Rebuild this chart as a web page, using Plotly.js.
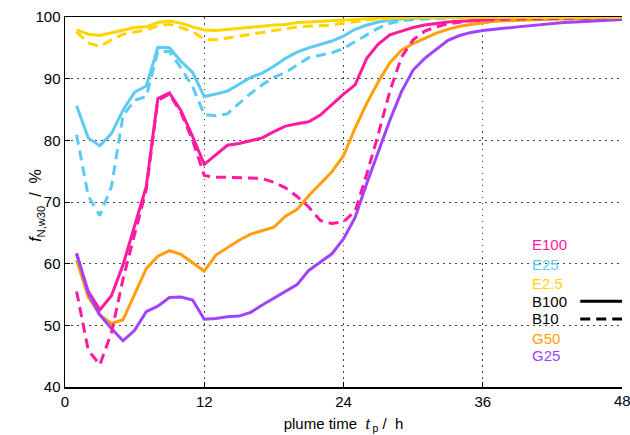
<!DOCTYPE html>
<html>
<head>
<meta charset="utf-8">
<script src="https://cdn.plot.ly/plotly-3.0.1.min.js"></script>
<style>html,body{margin:0;padding:0;background:#fff;}#chart{width:630px;height:435px;}</style>
</head>
<body>
<div id="chart"></div>
<script>
// plume time (h)
const hours = [1,2,3,4,5,6,7,8,9,10,11,12,13,14,15,16,17,18,19,20,21,22,23,24,25,26,27,28,29,30,31,32,33,34,35,36,37,38,39,40,41,42,43,44,45,46,47,48];

const E100_B100 = [61.5,55.5,52.5,54.8,59.8,66.0,72.5,86.8,87.7,84.8,80.6,76.1,77.7,79.2,79.5,79.9,80.4,81.4,82.3,82.7,83.0,84.1,85.8,87.5,89.0,93.3,95.6,97.1,97.7,98.3,98.7,99.0,99.2,99.3,99.4,99.5,99.55,99.6,99.65,99.7,99.7,99.75,99.75,99.8,99.8,99.8,99.85,99.85];
const E100_B10 = [55.5,46.0,43.6,48.8,57.5,65.0,72.0,86.5,87.5,84.5,80.0,74.3,74.0,74.0,74.0,73.9,73.8,73.2,72.3,70.9,69.2,67.0,66.5,66.8,68.5,74.5,81.0,88.0,93.5,96.3,97.7,98.4,98.9,99.2,99.4,99.5,99.6,99.65,99.7,99.7,99.75,99.75,99.8,99.8,99.8,99.85,99.85,99.85];
const E25_B100 = [85.6,80.4,79.1,81.1,84.9,87.8,88.8,95.1,95.0,92.8,91.0,87.1,87.5,88.0,89.1,90.2,90.9,92.0,93.3,94.3,95.0,95.6,96.1,96.9,98.0,98.7,99.2,99.5,99.7,99.8,99.85,99.9,99.9,99.9,99.9,99.9,99.92,99.92,99.93,99.93,99.94,99.94,99.95,99.95,99.95,99.95,99.95,99.95];
const E25_B10 = [80.9,71.0,67.8,72.5,84.0,86.5,87.1,94.4,94.4,91.7,88.7,84.2,84.0,84.3,86.0,87.6,89.0,90.2,91.0,92.2,93.4,93.8,94.2,94.9,96.0,97.0,98.2,99.0,99.4,99.6,99.7,99.8,99.85,99.9,99.9,99.9,99.9,99.92,99.92,99.93,99.93,99.94,99.94,99.95,99.95,99.95,99.95,99.95];
const E2_5_B100 = [97.9,97.2,97.0,97.4,97.9,98.3,98.4,99.1,99.35,99.0,98.4,97.9,97.8,98.0,98.2,98.4,98.6,98.7,98.8,99.1,99.2,99.3,99.4,99.6,99.7,99.8,99.85,99.9,99.9,99.92,99.93,99.94,99.95,99.95,99.95,99.96,99.96,99.96,99.97,99.97,99.97,99.97,99.98,99.98,99.98,99.98,99.98,99.98];
const E2_5_B10 = [97.6,95.8,95.2,96.3,97.2,97.6,97.9,98.6,98.8,98.3,97.6,96.4,96.3,96.6,96.9,97.2,97.5,97.8,98.1,98.4,98.5,98.6,98.7,99.0,99.3,99.5,99.7,99.8,99.85,99.9,99.9,99.92,99.93,99.94,99.95,99.95,99.95,99.96,99.96,99.96,99.97,99.97,99.97,99.97,99.98,99.98,99.98,99.98];
const G50 = [60.6,54.6,51.7,50.3,50.9,55.0,59.2,61.2,62.1,61.5,60.1,58.8,61.4,62.6,63.8,64.8,65.3,65.9,67.7,68.8,71.0,73.0,74.9,77.5,82.0,86.0,89.5,92.6,94.6,95.7,96.6,97.4,98.0,98.5,98.8,99.1,99.3,99.4,99.5,99.55,99.6,99.65,99.7,99.7,99.75,99.75,99.8,99.8];
const G25 = [61.7,55.2,51.7,49.5,47.5,49.2,52.2,53.1,54.5,54.6,54.1,51.0,51.1,51.4,51.5,52.1,53.3,54.4,55.5,56.6,58.9,60.3,61.6,64.0,67.5,73.0,78.3,83.3,87.9,91.4,93.3,94.8,96.2,97.0,97.5,97.8,97.95,98.2,98.4,98.6,98.8,98.95,99.1,99.2,99.3,99.4,99.5,99.6];

const legendLabels = ["E100","E25","E2.5","B100","B10","G50","G25"];
const xTicks = [0,12,24,36];
const xEdgeTick = 48;
const yTicks = [40,50,60,70,80,90,100];
const yTitle = "<i>f</i><sub>N,w30</sub>  /  %";

const C = {E100:"#ff1aa0", E25:"#5ccbf2", E2_5:"#ffd500", G50:"#ffa00a", G25:"#a043ff"};
const dashPat = "10px,6px";

function tr(y, color, dash) {
  return {x: hours, y: y, type: "scatter", mode: "lines",
    line: {color: color, width: 3, dash: dash || "solid"}, hoverinfo: "skip", showlegend: false};
}

const traces = [
  tr(E100_B100, C.E100),
  tr(E25_B100, C.E25),
  tr(G50, C.G50),
  tr(G25, C.G25),
  tr(E100_B10, C.E100, dashPat),
  tr(E25_B10, C.E25, dashPat),
  tr(E2_5_B10, C.E2_5, dashPat),
  tr(E2_5_B100, C.E2_5)
];

const font = {family: "Liberation Sans, Arial, sans-serif", size: 15, color: "#000"};
const legendColors = [C.E100, C.E25, C.E2_5, "#000", "#000", C.G50, C.G25];
const legY = [0.384, 0.332, 0.281, 0.232, 0.184, 0.132, 0.084];
const annotations = legendLabels.map((t, i) => ({
  text: t, xref: "paper", yref: "paper", x: 0.835, y: legY[i],
  xanchor: "left", yanchor: "middle", showarrow: false,
  font: {family: "Liberation Sans, Arial, sans-serif", size: 15, color: legendColors[i]}
}));
// tick label at the right edge (clipped in the reference)
annotations.push({text: String(xEdgeTick), xref: "x", yref: "paper", x: xEdgeTick, y: 0,
  xanchor: "center", yanchor: "top", yshift: -3, showarrow: false, font: font});
// y axis title
annotations.push({text: yTitle, xref: "paper", yref: "paper", x: -0.05, y: 0.49,
  xanchor: "center", yanchor: "middle", textangle: -90, showarrow: false,
  font: {family: font.family, size: 16, color: "#000"}});

const shapes = [
  {type: "line", xref: "paper", yref: "paper", x0: 0.925, x1: 1.0, y0: legY[3], y1: legY[3], line: {color: "#000", width: 3}},
  {type: "line", xref: "paper", yref: "paper", x0: 0.925, x1: 1.0, y0: legY[4], y1: legY[4], line: {color: "#000", width: 3, dash: dashPat}}
];

const layout = {
  width: 630, height: 435,
  margin: {l: 65, r: 8, t: 17, b: 48},
  paper_bgcolor: "#fff", plot_bgcolor: "#fff",
  font: font,
  showlegend: false,
  xaxis: {
    range: [0, 48], tickvals: xTicks.concat([xEdgeTick]), ticktext: xTicks.map(String).concat([""]),
    showline: true, linecolor: "#000", linewidth: 1.5, mirror: true,
    ticks: "inside", ticklen: 5, tickcolor: "#000",
    showgrid: true, gridcolor: "#444", griddash: "1.5px,4.5px", gridwidth: 1,
    zeroline: false, tickfont: font,
    title: {text: "plume time  <i>t</i><sub> p</sub> /  h", font: font, standoff: 10}
  },
  yaxis: {
    range: [40, 100], tickvals: yTicks, ticktext: yTicks.map(String),
    showline: true, linecolor: "#000", linewidth: 1.5,
    ticks: "inside", ticklen: 5, tickcolor: "#000",
    showgrid: true, gridcolor: "#444", griddash: "1.5px,4.5px", gridwidth: 1,
    zeroline: false, tickfont: font
  },
  annotations: annotations,
  shapes: shapes
};

Plotly.newPlot("chart", traces, layout, {displayModeBar: false, staticPlot: true});
</script>
</body>
</html>
